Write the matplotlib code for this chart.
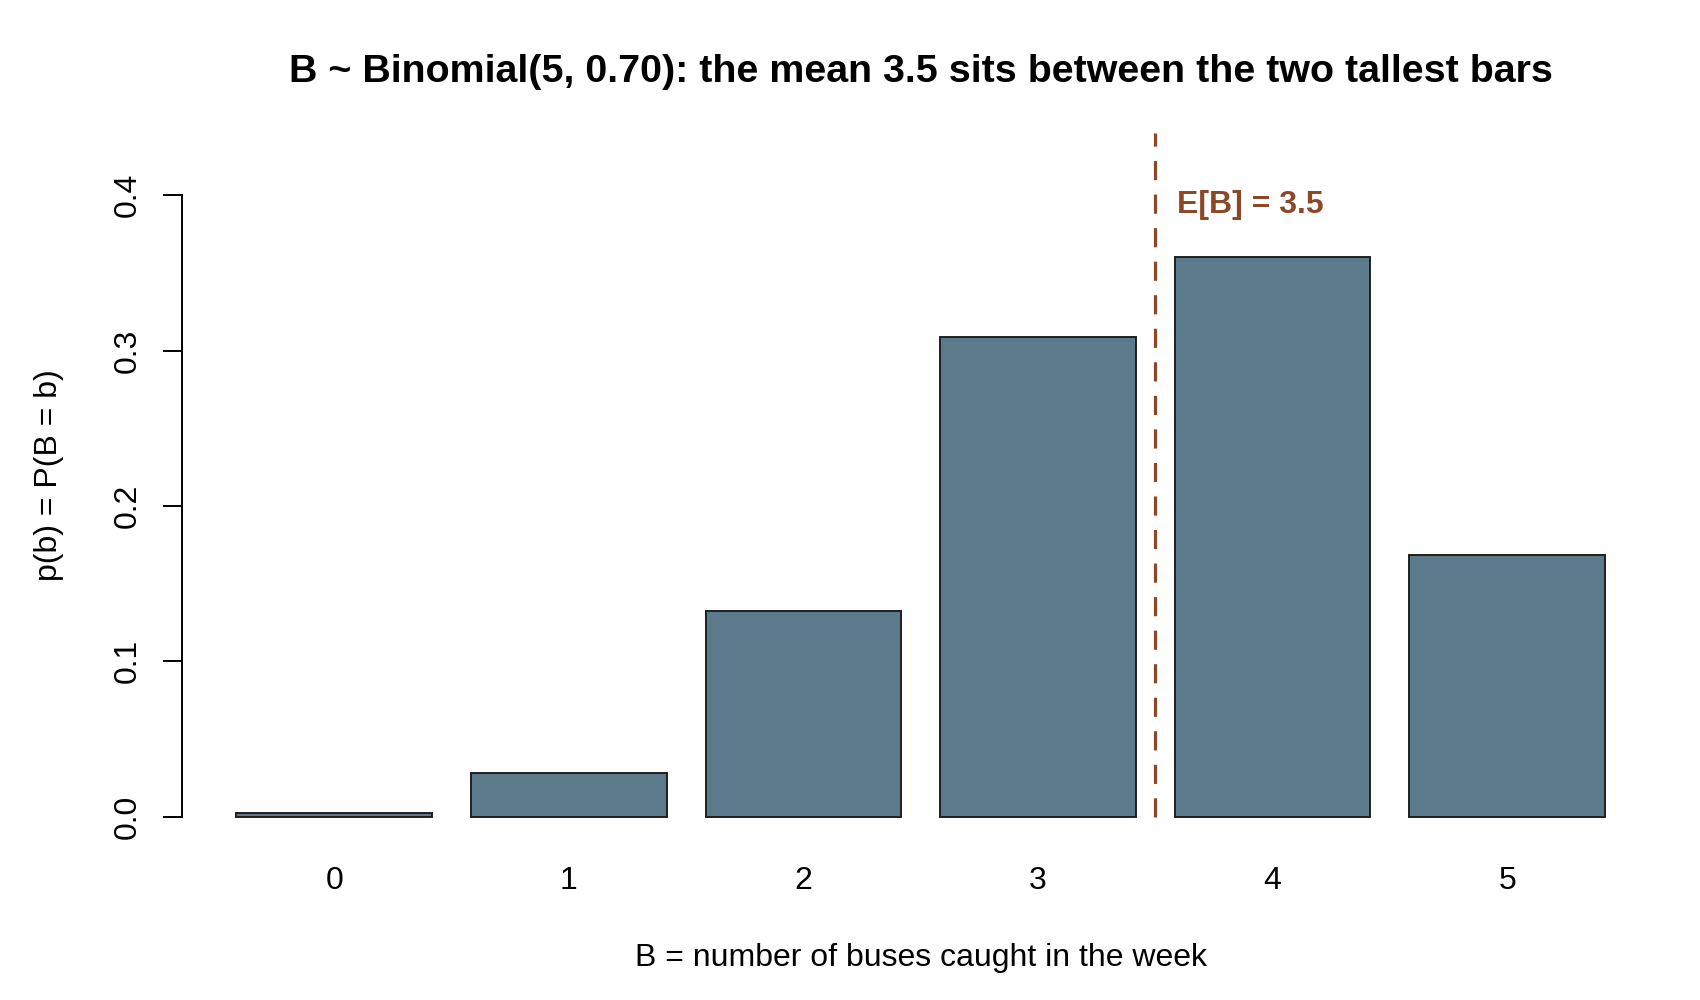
import numpy as np
import matplotlib
matplotlib.use('Agg')
import matplotlib.pyplot as plt

plt.rcParams['font.family'] = ['Liberation Sans', 'DejaVu Sans']

# data
buses = [0, 1, 2, 3, 4, 5]
probs = [0.00243, 0.02835, 0.1323, 0.3087, 0.36015, 0.16807]
mean_b = 3.5
yticks = [0.0, 0.1, 0.2, 0.3, 0.4]

bar_col = '#5b7a8c'
mean_col = '#8b4726'

fig = plt.figure(figsize=(17, 10), dpi=100)
ax = fig.add_axes([0.1069, 0.1561, 0.9763 - 0.1069, 0.8943 - 0.1561])

ax.bar(buses, probs, width=1/1.2, color=bar_col, edgecolor='#1f1f1f', linewidth=1.4)

# mean marker
ax.plot([mean_b, mean_b], [0, 0.44], color=mean_col, lw=2.3,
        dashes=(6, 4.5), clip_on=False)
ax.text(mean_b + 0.0925, 0.3935, f'E[B] = {mean_b}', color=mean_col,
        fontsize=23, fontweight='bold', ha='left', va='center')

ax.set_xlim(-0.65, 5.65)
ax.set_ylim(-0.0176, 0.4576)

for s in ['top', 'right', 'bottom']:
    ax.spines[s].set_visible(False)
ax.spines['left'].set_bounds(0, 0.4)
ax.spines['left'].set_linewidth(1.4)

ax.set_yticks(yticks)
ax.set_yticklabels([f'{v:.1f}' for v in yticks], rotation=90, va='center')
ax.tick_params(axis='y', length=14, width=1.4, pad=14, labelsize=23)
ax.set_xticks(buses)
ax.set_xticklabels([str(b) for b in buses])
ax.tick_params(axis='x', length=0, pad=16, labelsize=23)

fig.text(0.5 * (0.1069 + 0.9763), 0.0424, 'B = number of buses caught in the week',
         ha='center', va='center', fontsize=23)
fig.text(0.0287, 0.5252, 'p(b) = P(B = b)', rotation=90,
         ha='center', va='center', fontsize=23)
fig.text(0.5 * (0.1069 + 0.9763), 0.928,
         'B ~ Binomial(5, 0.70): the mean 3.5 sits between the two tallest bars',
         ha='center', va='center', fontsize=28.4, fontweight='bold')

fig.savefig('out.png', dpi=100)
